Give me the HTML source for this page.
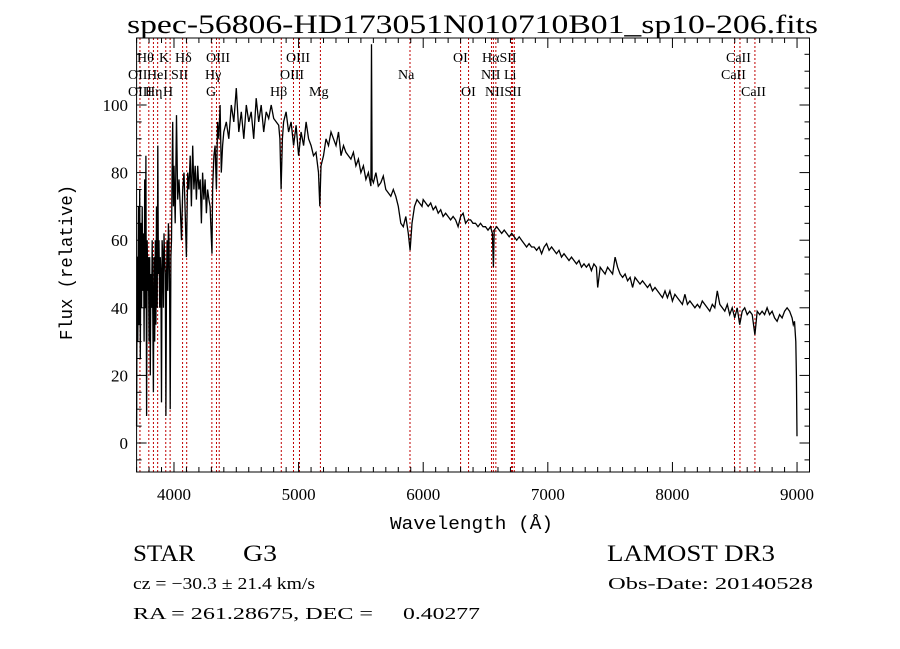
<!DOCTYPE html>
<html><head><meta charset="utf-8"><style>
html,body{margin:0;padding:0;background:#fff;}
svg{display:block;}
</style></head><body>
<svg id="chart" width="900" height="649" viewBox="0 0 900 649" xmlns="http://www.w3.org/2000/svg">
<rect x="0" y="0" width="900" height="649" fill="#fff"/>
<text x="127" y="33" font-family="Liberation Serif, serif" font-size="26" textLength="691" lengthAdjust="spacingAndGlyphs">spec-56806-HD173051N010710B01_sp10-206.fits</text>
<g id="lines"></g>
<g id="labels"></g>
<g id="series"></g>
<g id="axes"></g>
<text x="390" y="529" font-family="Liberation Mono, monospace" font-size="18" textLength="163" lengthAdjust="spacingAndGlyphs">Wavelength (Å)</text>
<text transform="translate(72,340) rotate(-90)" font-family="Liberation Mono, monospace" font-size="18" textLength="155" lengthAdjust="spacingAndGlyphs">Flux (relative)</text>
<text x="133" y="561" font-family="Liberation Serif, serif" font-size="23" textLength="62" lengthAdjust="spacingAndGlyphs">STAR</text>
<text x="243" y="561" font-family="Liberation Serif, serif" font-size="23" textLength="34" lengthAdjust="spacingAndGlyphs">G3</text>
<text x="607" y="561" font-family="Liberation Serif, serif" font-size="23" textLength="168" lengthAdjust="spacingAndGlyphs">LAMOST DR3</text>
<text x="133" y="589" font-family="Liberation Serif, serif" font-size="17" textLength="182" lengthAdjust="spacingAndGlyphs">cz = −30.3 ± 21.4 km/s</text>
<text x="608" y="589" font-family="Liberation Serif, serif" font-size="17" textLength="205" lengthAdjust="spacingAndGlyphs">Obs-Date: 20140528</text>
<text x="133" y="619" font-family="Liberation Serif, serif" font-size="17" textLength="240" lengthAdjust="spacingAndGlyphs">RA = 261.28675, DEC =</text>
<text x="403" y="619" font-family="Liberation Serif, serif" font-size="17" textLength="77" lengthAdjust="spacingAndGlyphs">0.40277</text>
</svg>
<script>
const wavelengths = [3700,3705,3710,3715,3720,3725,3730,3735,3740,3745,3750,3755,3760,3765,3770,3775,3780,3785,3790,3795,3800,3805,3810,3815,3820,3825,3830,3835,3840,3845,3850,3855,3860,3865,3870,3875,3880,3885,3890,3895,3900,3905,3910,3915,3920,3925,3930,3935,3940,3945,3950,3955,3960,3965,3970,3975,3980,3985,3990,3995,4000,4010,4020,4030,4040,4050,4060,4070,4080,4090,4100,4110,4120,4130,4140,4150,4160,4170,4180,4190,4200,4210,4220,4230,4240,4250,4260,4270,4280,4290,4300,4305,4310,4320,4330,4340,4350,4360,4370,4380,4390,4400,4420,4440,4460,4480,4500,4520,4540,4560,4580,4600,4620,4640,4660,4680,4700,4720,4740,4760,4780,4800,4820,4840,4850,4860,4870,4880,4900,4920,4940,4960,4980,5000,5020,5040,5060,5080,5100,5120,5140,5160,5170,5180,5200,5220,5240,5260,5280,5300,5320,5340,5360,5380,5400,5420,5440,5460,5480,5500,5520,5540,5560,5580,5585,5590,5600,5620,5640,5660,5680,5700,5720,5740,5760,5780,5800,5820,5840,5860,5880,5895,5910,5930,5950,5970,5990,6000,6020,6040,6060,6080,6100,6120,6140,6160,6180,6200,6220,6240,6260,6280,6300,6320,6340,6360,6380,6400,6420,6440,6460,6480,6500,6520,6540,6555,6563,6570,6590,6610,6630,6650,6670,6690,6710,6730,6750,6770,6790,6810,6830,6850,6870,6890,6910,6930,6950,6970,6990,7010,7030,7050,7070,7090,7110,7130,7150,7170,7190,7210,7230,7250,7270,7290,7310,7330,7350,7370,7390,7400,7420,7440,7460,7480,7500,7520,7540,7560,7580,7600,7620,7640,7660,7680,7700,7720,7740,7760,7780,7800,7820,7840,7860,7880,7900,7920,7940,7960,7980,8000,8020,8040,8060,8080,8100,8120,8140,8160,8180,8200,8220,8240,8260,8280,8300,8320,8340,8360,8380,8400,8420,8440,8460,8480,8500,8520,8540,8560,8580,8600,8620,8640,8662,8680,8700,8720,8740,8760,8780,8800,8820,8840,8860,8880,8900,8920,8940,8960,8970,8980,8990,8995,9000];
const fluxValues = [5,55,30,70,35,75,25,65,40,70,45,62,30,78,40,85,8,60,45,55,30,55,20,50,40,60,38,15,55,30,60,35,70,40,88,50,60,40,55,50,12,60,55,40,62,55,50,8,48,60,45,65,60,45,10,55,60,80,95,70,82,65,97,72,78,70,60,75,80,68,55,80,75,85,70,88,75,82,72,82,75,78,65,80,72,78,68,75,72,70,60,56,75,85,88,75,95,90,100,80,88,92,95,90,100,95,105,92,98,90,100,95,98,90,102,95,100,92,98,96,100,96,95,94,90,75,90,95,98,92,95,88,94,85,92,88,95,90,88,85,86,80,70,82,85,90,88,92,90,88,92,85,88,86,85,84,86,82,84,80,82,78,80,76,118,78,77,80,76,77,79,75,74,73,75,73,70,65,64,67,62,57,65,70,72,71,70,72,71,70,71,69,70,68,69,67,68,67,66,67,66,64,67,68,65,66,66,65,65,64,65,64,64,63,64,62,52,63,64,63,62,63,62,61,62,61,60,61,60,59,58,59,58,58,57,58,56,58,59,57,58,57,56,57,55,56,55,54,55,54,53,54,52,53,52,53,51,53,52,46,52,51,50,52,51,50,55,52,50,49,50,48,49,46,49,48,47,48,47,46,47,45,46,45,44,43,45,43,45,42,44,43,42,41,44,41,42,41,40,41,40,42,41,40,39,41,40,45,41,40,39,41,38,40,37,40,35,39,40,38,39,38,32,39,38,39,38,40,38,39,37,36,38,37,39,40,39,37,35,36,30,20,2];
const markerWaves = [3727,3798,3835,3869,3934,3969,4069,4102,4304,4341,4363,4861,4959,5007,5175,5894,6300,6364,6548,6563,6583,6708,6716,6731,8498,8542,8662];
const labelTexts = ["Hθ","K","Hδ","OIII","OIII","OI","HαSII","CaII","OII","HeI","SII","Hγ","OIII","Na","NII","Li","CaII","OIII","Hη","H","G","Hβ","Mg","OI","NIISII","CaII"];
const labelRows = [0,0,0,0,0,0,0,0,1,1,1,1,1,1,1,1,1,2,2,2,2,2,2,2,2,2];
const labelLeft = [137,159,175,206,286,453,482,726,128,147,171,205,280,398,481,504,721,128,145,163,206,270,309,461,485,741];
const xTickLabels = [4000,5000,6000,7000,8000,9000];
const yTickLabels = [0,20,40,60,80,100];

const NS="http://www.w3.org/2000/svg";
const X0=136.6, X1=809.5, W0=3700, W1=9100;
const Y0=472, Y1=38;
function xs(w){return X0+(w-W0)*(X1-X0)/(W1-W0);}
function ys(f){return 443-f*3.38;}
function mk(tag,attrs,parent){const e=document.createElementNS(NS,tag);for(const k in attrs)e.setAttribute(k,attrs[k]);parent.appendChild(e);return e;}

const gl=document.getElementById('lines');
markerWaves.forEach(w=>{
  const l=mk('line',{x1:xs(w),x2:xs(w),y1:Y1,y2:Y0,stroke:'#c00000','stroke-width':1,'stroke-dasharray':'2,2'},gl);
  
  
});
const glab=document.getElementById('labels');
const rowY=[62,79,96];
labelTexts.forEach((t,i)=>{
  const e=mk('text',{x:labelLeft[i],y:rowY[labelRows[i]],'font-family':'Liberation Serif, serif','font-size':14},glab);
  e.textContent=t;
  
  
});

const gs=document.getElementById('series');
let d='';
wavelengths.forEach((w,i)=>{d+=(i?'L':'M')+xs(w).toFixed(1)+','+ys(fluxValues[i]).toFixed(1);});
const p=mk('path',{d:d,fill:'none',stroke:'#000','stroke-width':1.3},gs);



const ga=document.getElementById('axes');
const fr=mk('rect',{x:X0,y:Y1,width:X1-X0,height:Y0-Y1,fill:'none',stroke:'#000','stroke-width':1},ga);


for(let w=3700;w<=9100;w+=100){
  const major=w%1000===0, len=major?10:5;
  mk('line',{x1:xs(w),x2:xs(w),y1:Y0,y2:Y0-len,stroke:'#000'},ga);
  mk('line',{x1:xs(w),x2:xs(w),y1:Y1,y2:Y1+len,stroke:'#000'},ga);
}
xTickLabels.forEach(v=>{
  const t=mk('text',{x:xs(v),y:500,'text-anchor':'middle','font-family':'Liberation Serif, serif','font-size':17},ga);
  t.textContent=v;
  
  
});
for(let f=-5;f<=115;f+=5){
  const major=f%20===0, len=major?10:5;
  mk('line',{x1:X0,x2:X0+len,y1:ys(f),y2:ys(f),stroke:'#000'},ga);
  mk('line',{x1:X1,x2:X1-len,y1:ys(f),y2:ys(f),stroke:'#000'},ga);
}
yTickLabels.forEach(v=>{
  const t=mk('text',{x:128,y:ys(v)+6,'text-anchor':'end','font-family':'Liberation Serif, serif','font-size':17},ga);
  t.textContent=v;
  
  
});
</script>
</body></html>
